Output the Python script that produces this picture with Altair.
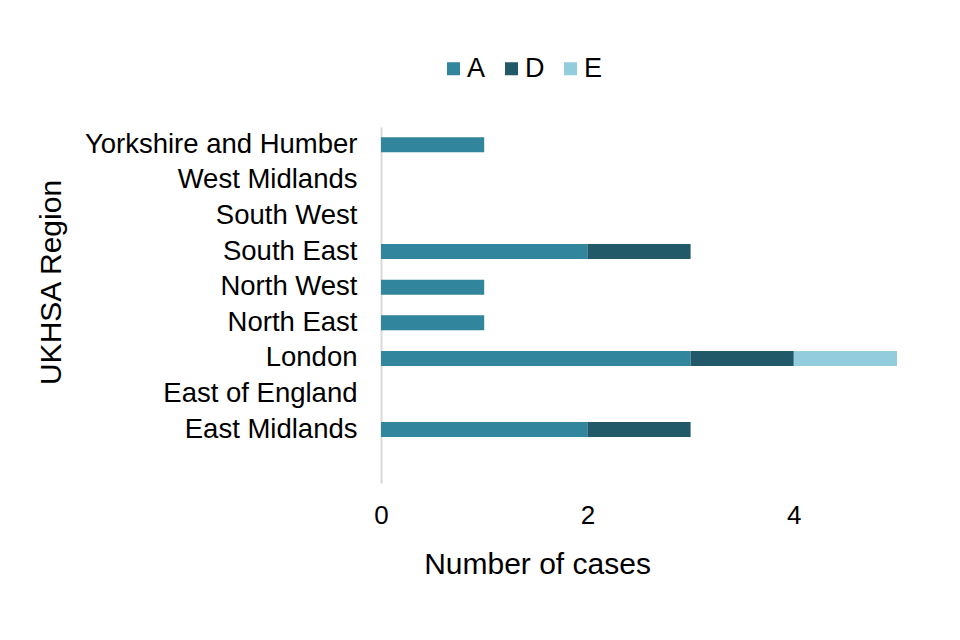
import altair as alt
import pandas as pd

regions = ["Yorkshire and Humber", "West Midlands", "South West", "South East",
           "North West", "North East", "London", "East of England", "East Midlands", " "]
series = ["A", "D", "E"]
a_vals = [1, 0, 0, 2, 1, 1, 3, 0, 2]
d_vals = [0, 0, 0, 1, 0, 0, 1, 0, 1]
e_vals = [0, 0, 0, 0, 0, 0, 1, 0, 0]
colors = ["#31859C", "#215968", "#93CDDD"]

rows = []
for vals, s, k in zip([a_vals, d_vals, e_vals], series, range(3)):
    for r, v in zip(regions[:9], vals):
        rows.append({"region": r, "group": s, "cases": v, "ord": k})
df = pd.DataFrame(rows)

FONT = "Liberation Sans"

chart = alt.Chart(df).mark_bar().encode(
    y=alt.Y("region:N", sort=regions,
            scale=alt.Scale(domain=regions, paddingInner=0.58, paddingOuter=0.29),
            axis=alt.Axis(title="UKHSA Region", ticks=False, labelPadding=24,
                          labelFontSize=27.5, labelColor="#000000", labelFont=FONT,
                          domainColor="#d9d9d9", domainWidth=2,
                          titleFont=FONT, titleFontSize=30, titleFontWeight="normal",
                          titleColor="#000000", titleAngle=270, titleX=-330, titleY=155,
                          titleAlign="center", titleBaseline="middle", labelLimit=400)),
    x=alt.X("cases:Q", stack="zero",
            scale=alt.Scale(domain=[0, 5], nice=False),
            axis=alt.Axis(title="Number  of cases", values=[0, 2, 4], domain=False,
                          ticks=False, grid=False, labelPadding=19, labelFlush=False,
                          labelFontSize=26, labelColor="#000000", labelFont=FONT,
                          titleFont=FONT, titleFontSize=30, titleFontWeight="normal",
                          titleColor="#000000", titleX=156, titleY=90,
                          titleAlign="center", titleBaseline="alphabetic")),
    color=alt.Color("group:N", scale=alt.Scale(domain=series, range=colors),
                    legend=alt.Legend(title=None, orient="none", direction="horizontal",
                                      legendX=59, legendY=-72, symbolType="square",
                                      symbolSize=169, symbolStrokeWidth=0,
                                      labelFont=FONT, labelFontSize=27,
                                      labelColor="#000000", labelOffset=0,
                                      columnPadding=12)),
    order=alt.Order("ord:Q"),
).properties(
    width=516, height=356,
    background="#ffffff",
    autosize=alt.AutoSizeParams(type="none"),
    padding={"left": 373, "top": 119, "right": 55, "bottom": 140},
).configure_view(strokeWidth=0, stroke=None)

chart.save("out.html", embed_options={"renderer": "svg", "actions": False})
